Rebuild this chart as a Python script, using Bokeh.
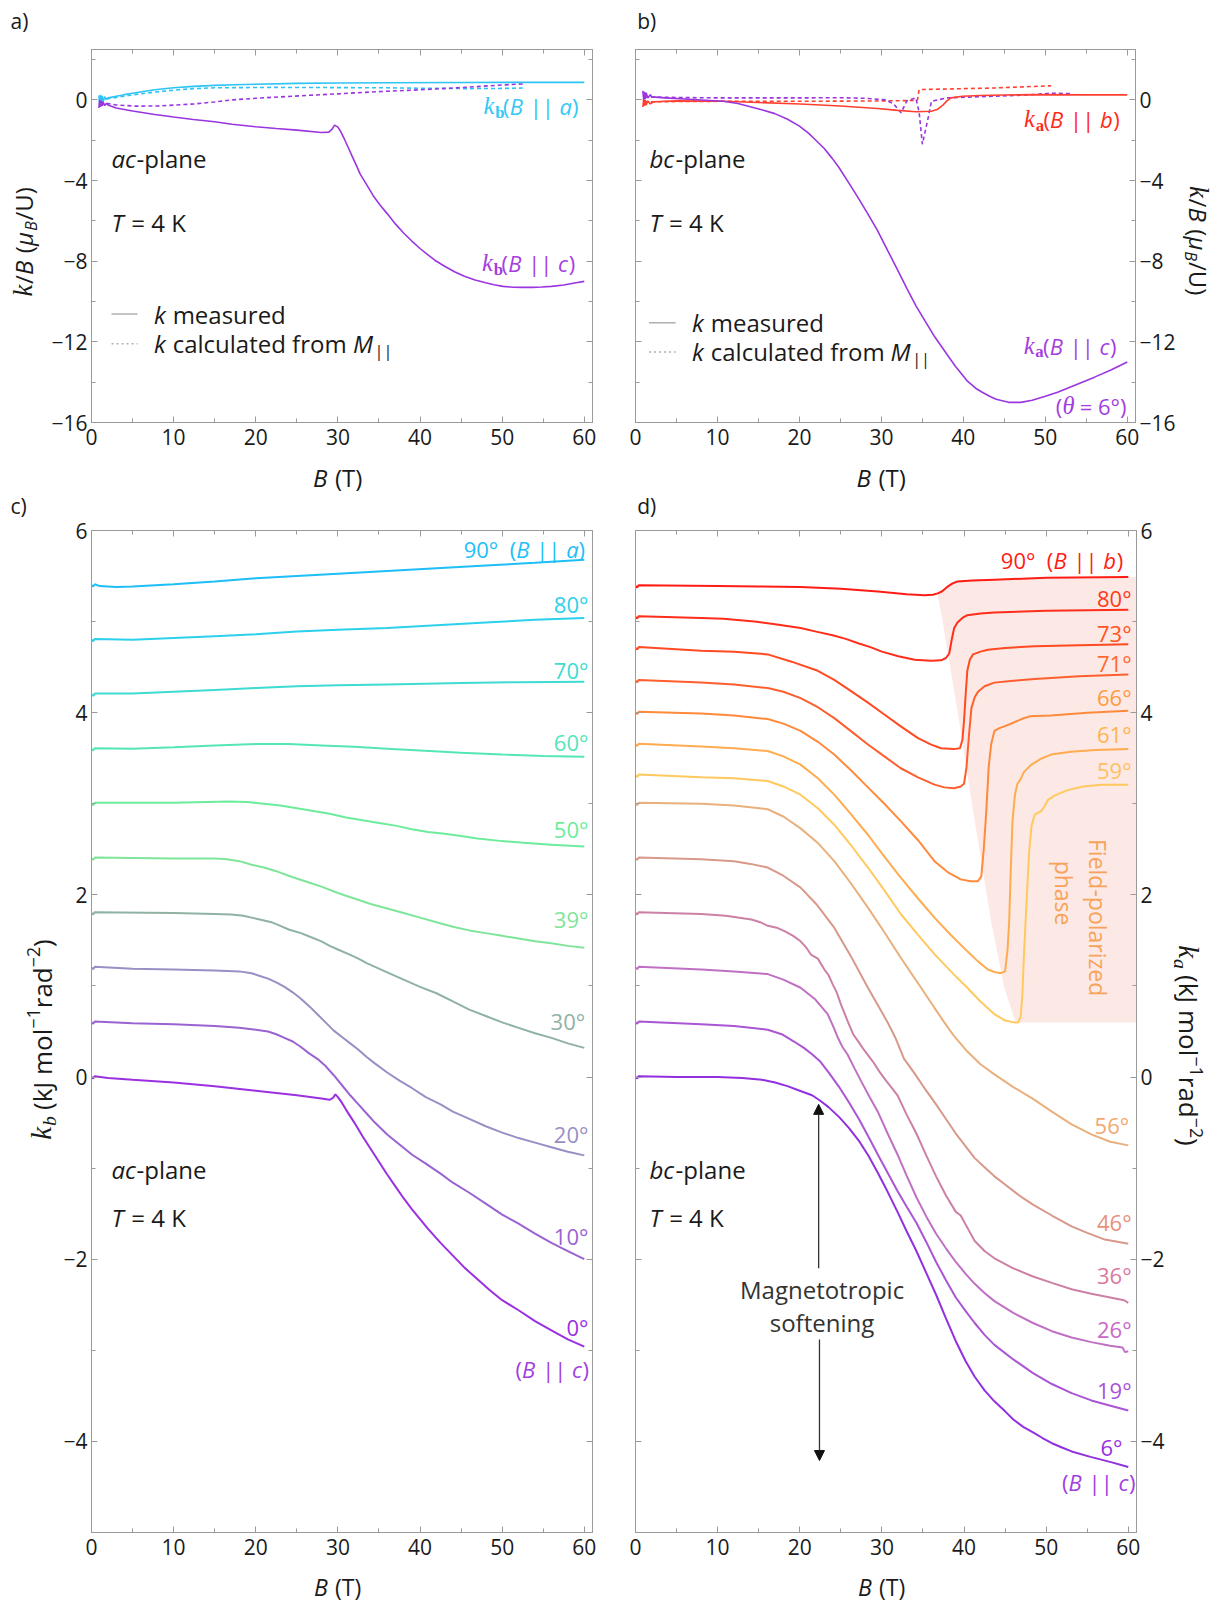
import math
from bokeh.plotting import figure
from bokeh.models import (Label, LinearAxis, SingleIntervalTicker, Range1d, Arrow,
                          NormalHead, CustomJSTickFormatter)
from bokeh.layouts import column, row
from bokeh.embed import file_html
from bokeh.resources import INLINE

FONT = "Open Sans"
MATH = "Liberation Serif"
FRAME = "#9a9a9a"
TXT = "#1a1a1a"

# ------------------------------------------------------------------ data
# panel a : k/B (muB/U), ac-plane
A_C_MEAS_B = [0.9, 1.0, 1.1, 1.2, 1.3, 1.4, 1.6, 1.8, 2.0, 3, 5, 7.7, 10, 12.4, 15, 17.1, 20, 22.5, 25, 28,
              28.9, 29.3, 29.6, 30.0, 30.3, 30.8, 31.3, 31.8, 32.3, 32.7, 33.5, 34.3, 35.1, 36, 37, 38, 39, 40,
              40.7, 41.8, 43, 44.2, 45.4, 46.7, 48, 49, 50.1, 51.3, 52.5, 53.7, 54.8, 56, 57.5, 59, 60]
A_C_MEAS_K = [-0.4, 0.0, -0.35, -0.05, -0.3, -0.1, -0.28, -0.18, -0.25, -0.4, -0.55, -0.72, -0.85, -0.97,
              -1.08, -1.21, -1.33, -1.42, -1.5, -1.62, -1.6, -1.45, -1.25, -1.35, -1.54, -1.95, -2.4, -2.85,
              -3.3, -3.67, -4.2, -4.75, -5.2, -5.64, -6.15, -6.6, -7.0, -7.37, -7.6, -7.95, -8.25, -8.52,
              -8.75, -8.93, -9.07, -9.17, -9.25, -9.29, -9.3, -9.3, -9.28, -9.25, -9.18, -9.07, -9.0]
A_A_MEAS_B = [0.9, 1.0, 1.1, 1.2, 1.3, 1.4, 1.6, 1.8, 2.0, 3, 4, 5, 6.3, 7.7, 10, 12.4, 15, 17.5, 20, 25, 30,
              36, 45, 52, 60]
A_A_MEAS_K = [0.22, -0.25, 0.25, -0.2, 0.2, -0.12, 0.16, 0.02, 0.1, 0.18, 0.26, 0.33, 0.42, 0.5, 0.6, 0.67,
              0.72, 0.75, 0.78, 0.82, 0.84, 0.85, 0.86, 0.87, 0.87]
A_A_CALC_B = [1, 3, 5, 7.7, 10, 12.4, 15, 21.9, 30, 36, 40, 45.4, 50, 52.5]
A_A_CALC_K = [0.0, 0.12, 0.25, 0.39, 0.48, 0.56, 0.6, 0.62, 0.61, 0.6, 0.58, 0.56, 0.57, 0.59]
A_C_CALC_B = [1, 3, 5.4, 8, 10, 12.5, 15, 17.1, 20, 23, 26.6, 30, 33, 36, 40, 45.4, 50, 52.5]
A_C_CALC_K = [-0.1, -0.25, -0.31, -0.3, -0.26, -0.2, -0.1, 0.0, 0.08, 0.15, 0.23, 0.3, 0.37, 0.43, 0.5,
              0.62, 0.74, 0.79]

# panel b : k/B (muB/U), bc-plane
B_B_MEAS_B = [0.9, 1.0, 1.1, 1.2, 1.3, 1.5, 1.8, 2.2, 3, 5, 10.7, 15, 20.1, 25, 29.5, 32, 34.2, 36.1, 36.8,
              37.5, 38.0, 38.5, 39.9, 42, 45, 48.4, 55, 60]
B_B_MEAS_K = [-0.35, 0.05, -0.3, 0.0, -0.25, -0.05, -0.2, -0.1, -0.08, -0.05, -0.07, -0.13, -0.2, -0.3,
              -0.43, -0.52, -0.59, -0.56, -0.48, -0.26, -0.05, 0.1, 0.18, 0.22, 0.24, 0.26, 0.25, 0.25]
B_B_CALC_B = [1, 5, 10, 20.1, 30, 33.8, 34.4, 34.6, 38, 43.7, 50.7]
B_B_CALC_K = [-0.1, -0.08, -0.07, -0.07, -0.05, -0.03, 0.0, 0.51, 0.54, 0.59, 0.7]
B_C_CALC_B = [1, 5, 10, 15, 20, 24.8, 28, 30.5, 31.5, 32.4, 33.1, 34.2, 34.6, 35.0, 35.7, 36.1, 38, 43.7,
              48, 50.7, 53]
B_C_CALC_K = [0.15, 0.12, 0.1, 0.1, 0.1, 0.11, 0.08, 0.0, -0.2, -0.64, -0.05, 0.1, -0.6, -2.2, -0.9,
              -0.07, 0.1, 0.18, 0.25, 0.33, 0.31]
B_C_MEAS_B = [0.9, 1.0, 1.1, 1.2, 1.3, 1.5, 1.8, 2.0, 3.6, 7, 10.7, 12.5, 14, 15.5, 17, 18.5, 20, 21.1, 22,
              23, 24, 24.8, 26, 27, 28.2, 29.5, 30.8, 32, 33.1, 34.2, 35.3, 36.5, 37.8, 39, 40.5, 41.5, 42.3,
              43.2, 44, 45.5, 47, 48.4, 50, 51.5, 53, 54.5, 56, 58, 60]
B_C_MEAS_K = [0.45, 0.0, 0.4, 0.05, 0.35, 0.1, 0.25, 0.15, 0.1, 0.02, -0.07, -0.18, -0.34, -0.5, -0.68,
              -0.95, -1.3, -1.65, -2.0, -2.4, -2.9, -3.34, -4.1, -4.75, -5.55, -6.46, -7.5, -8.45, -9.35,
              -10.2, -10.95, -11.75, -12.5, -13.2, -13.95, -14.3, -14.5, -14.7, -14.85, -15.0, -15.0, -14.9,
              -14.7, -14.5, -14.25, -14.0, -13.75, -13.4, -13.0]

# panel c : k_b (kJ mol^-1 rad^-2), ac-plane
C_ANGLES = ["0°", "10°", "20°", "30°", "39°", "50°", "60°", "70°", "80°", "90°"]
C_B = [
    [0, 0.2, 0.4, 2, 5, 10, 15, 20, 25, 28, 29.0, 29.4, 29.7, 30.0, 30.4, 31, 32, 33, 34, 35, 36, 37, 38, 39,
     40, 41, 42.5, 44, 45.5, 47, 48.5, 50, 52, 54, 56, 58, 60],
    [0, 0.2, 0.4, 5, 10, 15, 18, 20, 21.5, 22.5, 23.5, 24.5, 25.5, 26.5, 27.5, 28.5, 29.5, 30.5, 31.5, 32.5,
     33.5, 34.5, 36, 37.5, 39, 40.7, 42.5, 44, 46, 48, 50, 52, 54, 56, 58, 60],
    [0, 0.2, 0.4, 5, 10, 15, 18, 19.5, 20.5, 21.5, 22.5, 23.5, 24.5, 25.5, 26.6, 27.5, 28.5, 29.5, 30.5, 31.5,
     32.5, 33.5, 34.5, 36, 37.5, 39, 40.7, 42.5, 44, 46, 48, 50, 52, 54, 56, 58, 60],
    [0, 0.2, 0.4, 10, 15, 17, 18.5, 19.5, 20.5, 21.9, 23, 24, 25.5, 26.6, 28, 29, 30, 31.3, 32.5, 33.5, 35,
     36, 38, 40, 42, 44, 46, 48, 50, 52, 54, 56, 58, 60],
    [0, 0.2, 0.4, 10, 15, 16.5, 18, 19.5, 21, 22.5, 24, 26, 28, 30, 32, 34, 36, 38, 40, 42, 44, 46, 48, 50,
     52, 54, 56, 58, 60],
    [0, 0.2, 0.4, 10, 14, 16.7, 19, 21, 23, 25, 27, 29, 31, 33, 35, 37, 39, 41, 43, 45, 47, 50, 53, 56, 60],
    [0, 0.2, 0.4, 5, 10, 15, 20, 24, 28, 32, 36, 40, 45, 50, 55, 60],
    [0, 0.2, 0.4, 5, 10, 15, 20, 25, 30, 36, 45, 52, 60],
    [0, 0.2, 0.4, 5, 10, 15, 20, 25, 30, 36, 42, 48, 54, 60],
    [0, 0.2, 0.4, 1, 3, 5, 10, 15, 20, 25, 30, 36, 42, 48, 54, 60],
]
C_K = [
    [0.0, -0.015, 0.01, -0.01, -0.03, -0.06, -0.1, -0.15, -0.2, -0.235, -0.25, -0.23, -0.19, -0.22, -0.27,
     -0.36, -0.5, -0.65, -0.79, -0.93, -1.07, -1.2, -1.33, -1.45, -1.56, -1.67, -1.82, -1.96, -2.1, -2.22,
     -2.34, -2.45, -2.56, -2.68, -2.78, -2.88, -2.96],
    [0.6, 0.585, 0.61, 0.59, 0.58, 0.56, 0.54, 0.52, 0.5, 0.47, 0.43, 0.39, 0.33, 0.26, 0.2, 0.12, 0.02,
     -0.09, -0.2, -0.3, -0.4, -0.5, -0.63, -0.74, -0.85, -0.95, -1.06, -1.16, -1.27, -1.39, -1.51, -1.61,
     -1.72, -1.82, -1.91, -2.0],
    [1.2, 1.185, 1.21, 1.19, 1.18, 1.17, 1.16, 1.14, 1.11, 1.08, 1.04, 0.99, 0.93, 0.86, 0.77, 0.69, 0.6,
     0.51, 0.44, 0.37, 0.3, 0.22, 0.15, 0.05, -0.04, -0.12, -0.22, -0.3, -0.38, -0.46, -0.54, -0.61, -0.67,
     -0.72, -0.77, -0.82, -0.86],
    [1.8, 1.785, 1.81, 1.8, 1.79, 1.785, 1.77, 1.75, 1.73, 1.7, 1.66, 1.62, 1.58, 1.54, 1.49, 1.44, 1.4,
     1.35, 1.3, 1.25, 1.19, 1.15, 1.07, 0.99, 0.92, 0.83, 0.74, 0.67, 0.6, 0.54, 0.48, 0.43, 0.37, 0.32],
    [2.4, 2.385, 2.41, 2.4, 2.4, 2.39, 2.37, 2.33, 2.3, 2.26, 2.21, 2.15, 2.09, 2.02, 1.96, 1.9, 1.85, 1.8,
     1.75, 1.7, 1.65, 1.61, 1.58, 1.55, 1.52, 1.49, 1.47, 1.44, 1.42],
    [3.0, 2.985, 3.01, 3.01, 3.02, 3.025, 3.02, 3.0, 2.98, 2.95, 2.92, 2.89, 2.85, 2.82, 2.79, 2.76, 2.72,
     2.69, 2.67, 2.645, 2.62, 2.59, 2.57, 2.55, 2.53],
    [3.6, 3.585, 3.61, 3.605, 3.62, 3.64, 3.655, 3.655, 3.64, 3.625, 3.605, 3.585, 3.56, 3.54, 3.525, 3.515],
    [4.2, 4.185, 4.21, 4.21, 4.23, 4.25, 4.27, 4.29, 4.3, 4.31, 4.325, 4.335, 4.34],
    [4.8, 4.785, 4.81, 4.8, 4.82, 4.84, 4.86, 4.89, 4.91, 4.93, 4.96, 4.99, 5.02, 5.04],
    [5.4, 5.385, 5.41, 5.39, 5.38, 5.385, 5.41, 5.44, 5.475, 5.5, 5.525, 5.555, 5.585, 5.615, 5.645, 5.68],
]
C_COLORS = ["#9b30e0", "#9a63d2", "#9a8fc4", "#8fb2a2", "#7fe59a", "#6dec9c", "#55e6b8", "#3edbd0",
            "#2cd0ec", "#1ebff8"]
C_LAB_B = [60.5, 60.5, 60.5, 60.1, 60.5, 60.5, 60.5, 60.5, 60.5, 60.1]
C_LAB_K = [-2.74, -1.74, -0.62, 0.62, 1.73, 2.72, 3.68, 4.47, 5.19, 5.80]

# panel d : k_a (kJ mol^-1 rad^-2), bc-plane
D_ANGLES = ["6°", "19°", "26°", "36°", "46°", "56°", "59°", "61°", "66°", "71°", "73°", "80°", "90°"]
D_B = [
    [0, 0.2, 0.4, 5, 10, 13, 15.4, 17, 18.5, 20, 21.5, 22.5, 23.5, 24.8, 26, 27.2, 28.4, 29.5, 30.7, 31.9, 33,
     34.2, 35.4, 36.6, 37.8, 39, 40.2, 41.3, 42.5, 43.7, 45, 46, 47.2, 48.4, 49.5, 50.7, 52, 53.1, 55.4, 58, 60],
    [0, 0.2, 0.4, 8, 12, 16.1, 17.8, 19.3, 20.5, 21.5, 22.5, 23.6, 24.8, 26, 27.2, 28.4, 29.5, 30.7, 31.9, 33,
     34.2, 35.4, 36.6, 37.8, 39, 40.2, 41.3, 42.5, 43.7, 46, 48.4, 50.7, 53.1, 55.5, 57.5, 60],
    [0, 0.2, 0.4, 8, 12, 16.1, 18, 20.1, 21.8, 23.4, 24.1, 24.6, 25.2, 25.8, 26.7, 27.5, 28.5, 29.5, 30.7,
     31.9, 33, 34.2, 35.4, 36.6, 37.8, 39, 40.2, 41.3, 42.5, 43.7, 46, 48.4, 50.7, 53.1, 55.5, 57.8, 59.3,
     59.6, 60],
    [0, 0.2, 0.4, 8, 11, 14.1, 15.2, 16.1, 17.2, 18.2, 19.2, 20.1, 20.8, 21.4, 22.2, 23.0, 23.5, 24, 24.5,
     25.0, 25.8, 26.5, 27.2, 27.8, 28.9, 29.7, 30.5, 31.2, 31.9, 33, 34.2, 35.4, 36.6, 37.8, 39, 39.6, 40.2,
     41.3, 42.5, 43.7, 46, 48.4, 50.7, 53.1, 55.5, 57.8, 59.5, 60],
    [0, 0.2, 0.4, 8, 12, 14, 16.1, 18, 20.1, 22, 24.2, 26.2, 28.3, 29.5, 30.7, 31.7, 32.7, 33.5, 34.2, 35.4,
     36.6, 37.8, 39, 40.2, 41.3, 42.5, 43.7, 45, 46, 47.2, 48.4, 50.7, 53.1, 55, 57, 60],
    [0, 0.2, 0.4, 8, 12, 16.1, 18, 20.1, 22.2, 24.2, 26.2, 28.3, 30.3, 32.3, 34.4, 36.4, 37.6, 38.7, 40.4,
     42, 43.7, 46, 48.4, 50.7, 53.1, 55.5, 57.8, 60],
    [0, 0.2, 0.4, 8, 12, 16.1, 18, 20.1, 22.2, 24.2, 26.2, 28.3, 30.3, 32.3, 34.4, 36.4, 38.4, 40.4, 42,
     43.7, 45, 46.1, 46.6, 46.9, 47.1, 47.3, 47.6, 47.9, 48.2, 48.6, 49.4, 49.8, 50.2, 51, 52.6, 54.5, 56.7,
     60],
    [0, 0.2, 0.4, 8, 12, 16.1, 18, 20.1, 22.2, 24.2, 26.2, 28.3, 30.3, 32.3, 34.4, 36.4, 38.4, 40.4, 41.7,
     42.9, 43.8, 44.5, 45.0, 45.3, 45.5, 45.7, 45.9, 46.2, 46.5, 46.9, 47.3, 48.2, 49.5, 50.6, 53, 56, 60],
    [0, 0.2, 0.4, 8, 12, 16.1, 18, 20.1, 22.2, 24.2, 26.2, 28.3, 30.3, 32.3, 34.4, 36.4, 38, 39.6, 40.8,
     41.7, 42.1, 42.4, 42.7, 43.0, 43.3, 43.7, 44.3, 44.9, 46, 47.0, 48.0, 50.6, 55, 60],
    [0, 0.2, 0.4, 8, 12, 16.1, 18, 20.1, 22.2, 24.2, 26.2, 28.3, 30.3, 32.3, 34.4, 36.4, 37.6, 38.8, 39.6,
     40.0, 40.3, 40.6, 40.9, 41.3, 41.7, 42.5, 43.7, 46, 48.6, 54, 60],
    [0, 0.2, 0.4, 8, 12, 16.1, 19, 22.2, 24.2, 26.2, 28.3, 30.3, 32.3, 34.4, 36, 37.2, 38.8, 39.5, 39.8,
     40.0, 40.2, 40.4, 40.7, 41.1, 42.0, 42.9, 45, 48.6, 54, 60],
    [0, 0.2, 0.4, 8, 10.7, 14.5, 17, 20.1, 22, 24, 25.6, 27.2, 28.6, 30, 32, 34, 36, 37.2, 37.8, 38.2, 38.5,
     38.8, 39.2, 39.8, 40.4, 42, 43.7, 50, 60],
    [0, 0.2, 0.4, 10, 15, 20.1, 25, 29.5, 33, 35.2, 36.2, 36.8, 37.3, 37.7, 38.1, 38.6, 39.2, 41, 43.7, 50, 60],
]
D_K = [
    [0.0, -0.015, 0.01, 0.0, 0.0, -0.01, -0.03, -0.06, -0.1, -0.15, -0.2, -0.26, -0.33, -0.44, -0.56, -0.7,
     -0.87, -1.05, -1.26, -1.48, -1.69, -1.91, -2.15, -2.39, -2.65, -2.9, -3.12, -3.29, -3.44, -3.56, -3.67,
     -3.76, -3.84, -3.9, -3.96, -4.02, -4.07, -4.11, -4.17, -4.23, -4.28],
    [0.6, 0.585, 0.61, 0.58, 0.56, 0.52, 0.47, 0.39, 0.32, 0.25, 0.17, 0.04, -0.11, -0.28, -0.46, -0.66,
     -0.85, -1.05, -1.25, -1.42, -1.6, -1.81, -2.03, -2.23, -2.42, -2.57, -2.7, -2.83, -2.94, -3.1, -3.25,
     -3.37, -3.47, -3.55, -3.6, -3.66],
    [1.2, 1.185, 1.21, 1.18, 1.16, 1.13, 1.07, 0.98, 0.86, 0.69, 0.55, 0.44, 0.33, 0.25, 0.09, -0.05, -0.22,
     -0.38, -0.62, -0.85, -1.08, -1.32, -1.53, -1.72, -1.88, -2.03, -2.16, -2.27, -2.37, -2.46, -2.59, -2.7,
     -2.79, -2.86, -2.91, -2.95, -2.97, -3.02, -3.01],
    [1.8, 1.785, 1.81, 1.79, 1.77, 1.73, 1.7, 1.66, 1.64, 1.6, 1.55, 1.49, 1.42, 1.34, 1.3, 1.18, 1.12, 1.02,
     0.93, 0.8, 0.62, 0.47, 0.38, 0.3, 0.17, 0.06, -0.04, -0.12, -0.2, -0.41, -0.62, -0.86, -1.09, -1.3,
     -1.48, -1.52, -1.62, -1.8, -1.91, -1.99, -2.1, -2.19, -2.26, -2.33, -2.38, -2.42, -2.45, -2.48],
    [2.4, 2.385, 2.41, 2.39, 2.37, 2.34, 2.3, 2.21, 2.08, 1.9, 1.64, 1.33, 0.98, 0.79, 0.6, 0.42, 0.2, 0.1,
     0.01, -0.15, -0.3, -0.46, -0.62, -0.76, -0.89, -0.99, -1.09, -1.18, -1.25, -1.33, -1.4, -1.52, -1.64,
     -1.71, -1.78, -1.83],
    [3.0, 2.985, 3.01, 3.0, 2.98, 2.94, 2.86, 2.73, 2.57, 2.37, 2.13, 1.86, 1.59, 1.31, 1.03, 0.76, 0.6,
     0.46, 0.28, 0.14, 0.03, -0.11, -0.24, -0.38, -0.52, -0.63, -0.71, -0.75],
    [3.31, 3.295, 3.32, 3.29, 3.28, 3.25, 3.19, 3.1, 2.95, 2.77, 2.55, 2.3, 2.05, 1.79, 1.56, 1.35, 1.16,
     0.98, 0.83, 0.69, 0.62, 0.6, 0.6, 0.66, 0.9, 1.35, 1.9, 2.44, 2.75, 2.88, 2.92, 2.97, 3.04, 3.09, 3.15,
     3.19, 3.21, 3.21],
    [3.65, 3.635, 3.66, 3.63, 3.61, 3.58, 3.52, 3.43, 3.28, 3.1, 2.89, 2.66, 2.42, 2.19, 1.96, 1.75, 1.56,
     1.38, 1.27, 1.18, 1.15, 1.14, 1.16, 1.4, 1.71, 2.3, 2.81, 3.1, 3.22, 3.27, 3.35, 3.43, 3.5, 3.54, 3.57,
     3.59, 3.6],
    [4.0, 3.985, 4.01, 3.99, 3.97, 3.93, 3.88, 3.8, 3.68, 3.54, 3.37, 3.18, 3.0, 2.81, 2.6, 2.37, 2.25, 2.17,
     2.15, 2.15, 2.2, 2.5, 2.9, 3.4, 3.65, 3.8, 3.83, 3.85, 3.89, 3.93, 3.96, 3.97, 4.0, 4.02],
    [4.35, 4.335, 4.36, 4.33, 4.31, 4.27, 4.23, 4.16, 4.06, 3.94, 3.8, 3.65, 3.52, 3.39, 3.29, 3.21, 3.18,
     3.17, 3.19, 3.22, 3.4, 3.75, 4.05, 4.17, 4.23, 4.29, 4.33, 4.35, 4.37, 4.4, 4.42],
    [4.71, 4.695, 4.72, 4.68, 4.67, 4.64, 4.56, 4.46, 4.36, 4.24, 4.11, 3.98, 3.85, 3.72, 3.65, 3.61, 3.6,
     3.61, 3.7, 3.91, 4.2, 4.46, 4.58, 4.64, 4.67, 4.69, 4.71, 4.73, 4.74, 4.75],
    [5.05, 5.035, 5.06, 5.04, 5.03, 5.0, 4.97, 4.93, 4.89, 4.85, 4.81, 4.76, 4.72, 4.67, 4.62, 4.58, 4.57,
     4.575, 4.6, 4.65, 4.8, 4.93, 4.99, 5.04, 5.07, 5.09, 5.1, 5.12, 5.13],
    [5.39, 5.375, 5.4, 5.39, 5.385, 5.38, 5.36, 5.33, 5.3, 5.29, 5.295, 5.31, 5.33, 5.36, 5.39, 5.42, 5.44,
     5.45, 5.46, 5.48, 5.49],
]
D_COLORS = ["#9230e0", "#aa55d4", "#c070c4", "#cd80a6", "#d8988a", "#e9b07e", "#ffc95e", "#ffab50",
            "#ff8a3c", "#ff5f2e", "#ff4a22", "#ff2e1a", "#ff1c14"]
D_LAB_COLORS = ["#9a30e0", "#aa50d8", "#c868c8", "#dc78a0", "#e8907c", "#f2a870", "#ffc060", "#ffb450",
                "#ff9a40", "#ff6a30", "#ff5522", "#ff3a1a", "#ff1c14"]
D_LAB_B = [59.3, 60.4, 60.4, 60.4, 60.4, 60.1, 60.4, 60.4, 60.4, 60.4, 60.4, 60.4, 59.4]
D_LAB_K = [-4.06, -3.44, -2.77, -2.17, -1.59, -0.53, 3.37, 3.77, 4.17, 4.55, 4.87, 5.26, 5.68]

# field-polarized region boundary (B, k)
FP_B = [36.8, 37.4, 39.4, 41.3, 43.3, 44.9, 46.3, 61.0, 61.0, 50.0, 43.7, 41.0, 39.2, 38.6, 38.1, 37.7, 37.3]
FP_K = [5.29, 5.0, 3.91, 2.81, 1.71, 0.98, 0.6, 0.6, 5.49, 5.48, 5.46, 5.45, 5.44, 5.42, 5.39, 5.36, 5.33]

# ------------------------------------------------------------------ helpers
CW = {' ': .26, '(': .30, ')': .30, '/': .37, '=': .57, '|': .55, '°': .43, '−': .57, '-': .32,
      '0': .57, '1': .57, '2': .57, '3': .57, '4': .57, '5': .57, '6': .57, '7': .57, '8': .57, '9': .57,
      'A': .63, 'B': .65, 'C': .63, 'D': .73, 'F': .55, 'K': .62, 'M': .9, 'T': .56, 'U': .73, 'J': .28,
      'a': .56, 'b': .61, 'c': .48, 'd': .61, 'e': .56, 'f': .34, 'g': .55, 'h': .61, 'i': .25, 'k': .52,
      'l': .25, 'm': .93, 'n': .61, 'o': .6, 'p': .61, 'r': .41, 's': .48, 't': .35, 'u': .61, 'z': .47,
      'μ': .62, 'θ': .5}


def tw(s, size, kind):
    if kind in ("mi", "mb"):
        return sum(0.47 if ch.isalpha() else 0.3 for ch in s) * size
    return sum(CW.get(ch, 0.56) for ch in s) * size


def rich(p, sc, x, y, pieces, size=24, color=TXT, align="left", angle=0.0):
    """Mixed-style text; (x, y) is the visual centre-line start/centre/end point."""
    ppx, ppy = sc
    items = []
    for text, kind in pieces:
        sub = kind.startswith("sub_")
        sup = kind.startswith("sup_")
        base = kind[4:] if (sub or sup) else kind
        fs = size * 0.68 if (sub or sup) else size
        if base in ("mi", "mb"):
            fs *= 1.12
        bl = -0.2 * size if sub else (0.4 * size if sup else 0.0)
        shift = -0.32 * size + bl + 0.32 * fs
        items.append((text, base, fs, shift, tw(text, fs, base)))
    total = sum(it[4] for it in items)
    pos = {"left": 0.0, "center": -total / 2, "right": -total}[align]
    if angle == 0:
        adv, up = (1, 0), (0, 1)
    elif angle > 0:
        adv, up = (0, 1), (-1, 0)
    else:
        adv, up = (0, -1), (1, 0)
    for text, base, fs, shift, w in items:
        lead = (len(text) - len(text.lstrip(" "))) * CW[' '] * fs
        t = text.strip(" ")
        if t:
            q = pos + lead
            dx = adv[0] * q + up[0] * shift
            dy = adv[1] * q + up[1] * shift
            p.add_layout(Label(
                x=x + dx / ppx, y=y + dy / ppy, text=t,
                text_font=MATH if base in ("mi", "mb") else FONT,
                text_font_style={"n": "normal", "i": "italic", "mi": "italic", "mb": "bold"}[base],
                text_font_size=f"{fs:.1f}px", text_color=color, text_align="left",
                text_baseline="middle", angle=angle))
        pos += w


MINUS = CustomJSTickFormatter(code="return tick < 0 ? '\\u2212' + Math.abs(tick) : String(tick);")


def make_fig(w, h, left, right, top, bottom, yr, yint, ylab_side):
    p = figure(width=w, height=h, x_range=Range1d(0, 61), y_range=Range1d(*yr), output_backend="svg",
               toolbar_location=None, min_border_left=left, min_border_right=right, min_border_top=top,
               min_border_bottom=bottom, x_axis_location=None, y_axis_location=None)
    p.grid.visible = False
    p.outline_line_color = FRAME
    p.background_fill_color = "white"
    p.border_fill_color = "white"
    for side in ("below", "above", "left", "right"):
        if side in ("below", "above"):
            ax = LinearAxis(ticker=SingleIntervalTicker(interval=10, num_minor_ticks=2))
        else:
            ax = LinearAxis(ticker=SingleIntervalTicker(interval=yint, num_minor_ticks=2))
        ax.formatter = MINUS
        ax.axis_line_color = FRAME
        ax.major_tick_line_color = FRAME
        ax.minor_tick_line_color = FRAME
        ax.major_tick_in = 6
        ax.major_tick_out = 0
        ax.minor_tick_in = 4
        ax.minor_tick_out = 0
        if side == "below" or side == ylab_side:
            ax.major_label_text_font = FONT
            ax.major_label_text_font_size = "21px"
            ax.major_label_text_color = TXT
            ax.major_label_standoff = 6 if side == "below" else 4
        else:
            ax.major_label_text_font_size = "0px"
            ax.major_label_text_color = None
            ax.major_label_standoff = 0
        p.add_layout(ax, side)
    return p


def strip(w, h, left=0, right=0, xr=None):
    """Text-only figure; x in field units when xr is given (frame aligned with the panel), else px."""
    s = figure(width=w, height=h, x_range=Range1d(*(xr if xr else (0, w))), y_range=Range1d(h, 0),
               output_backend="svg", toolbar_location=None, min_border_left=left, min_border_right=right,
               min_border_top=0, min_border_bottom=0, x_axis_location=None, y_axis_location=None)
    s.grid.visible = False
    s.outline_line_color = None
    s.background_fill_color = "white"
    s.border_fill_color = "white"
    return s


PPX = 501 / 61
SC_AB = (PPX, 373 / 18.5)
SC_CD = (PPX, 1002 / 11)
SC_S = (1.0, -1.0)
SC_X = (PPX, -1.0)

# top row (height 520) and bottom row (height 1082)
pa = make_fig(560, 460, 45, 14, 49, 38, (-16, 2.5), 4, "left")
pb = make_fig(572, 413, 29, 42, 2, 38, (-16, 2.5), 4, "right")
pc = make_fig(548, 1045, 33, 14, 10, 33, (-5, 6), 2, "left")
pd = make_fig(567, 1045, 29, 37, 10, 33, (-5, 6), 2, "right")

s_tl, s_tr = strip(46, 520), strip(35, 520)
s_tb = strip(572, 47, 29, 42, (0, 61))
s_xa, s_xb = strip(560, 60, 45, 14, (0, 61)), strip(572, 60, 29, 42, (0, 61))
s_bl, s_br = strip(58, 1082), strip(40, 1082)
s_xc, s_xd = strip(548, 37, 33, 14, (0, 61)), strip(567, 37, 29, 37, (0, 61))

CYAN = "#2ec4f5"
PURP = "#9b35e0"
RED = "#ff4030"

# ---- panel a
pa.line(A_A_CALC_B, A_A_CALC_K, line_color=CYAN, line_width=1.6, line_dash="4 3")
pa.line(A_C_CALC_B, A_C_CALC_K, line_color=PURP, line_width=1.6, line_dash="4 3")
pa.line(A_A_MEAS_B, A_A_MEAS_K, line_color=CYAN, line_width=1.6)
pa.line(A_C_MEAS_B, A_C_MEAS_K, line_color=PURP, line_width=1.6)

# ---- panel b
pb.line(B_B_CALC_B, B_B_CALC_K, line_color=RED, line_width=1.6, line_dash="4 3")
pb.line(B_C_CALC_B, B_C_CALC_K, line_color=PURP, line_width=1.6, line_dash="4 3")
pb.line(B_B_MEAS_B, B_B_MEAS_K, line_color=RED, line_width=1.6)
pb.line(B_C_MEAS_B, B_C_MEAS_K, line_color=PURP, line_width=1.6)

# ---- panel c
for xs, ys, col in zip(C_B, C_K, C_COLORS):
    pc.line(xs, ys, line_color=col, line_width=2)

# ---- panel d
pd.patch(FP_B, FP_K, fill_color="#fce9e5", line_color=None)
for xs, ys, col in zip(D_B, D_K, D_COLORS):
    pd.line(xs, ys, line_color=col, line_width=2)

# ------------------------------------------------------------------ texts in frames
LEG = "#b0b0b0"
for p, sc, plane, tx0, leg_x0, leg_x1, leg_tx, ly1, ly2, ty1, ty2 in (
        (pa, SC_AB, "ac", 2.44, 2.44, 5.6, 7.6, -10.62, -12.1, -2.92, -6.1),
        (pb, SC_AB, "bc", 1.7, 1.65, 4.9, 6.9, -11.05, -12.5, -2.92, -6.1)):
    rich(p, sc, tx0, ty1, [(plane, "i"), ("-plane", "n")])
    rich(p, sc, tx0, ty2, [("T", "i"), (" = 4 K", "n")])
    p.line([leg_x0, leg_x1], [ly1, ly1], line_color=LEG, line_width=1.5)
    p.line([leg_x0, leg_x1], [ly2, ly2], line_color=LEG, line_width=1.5, line_dash="2 3")
    rich(p, sc, leg_tx, ly1, [("k", "i"), (" measured", "n")])
    rich(p, sc, leg_tx, ly2, [("k", "i"), (" calculated from ", "n"), ("M", "i"), ("||", "sub_n")])

PAR = " || "
rich(pa, SC_AB, 59.3, -0.3, [("k", "mi"), ("b", "sub_mb"), ("(", "n"), ("B", "i"), (PAR, "n"),
                              ("a", "i"), (")", "n")], size=22, color="#35c8f5", align="right")
rich(pa, SC_AB, 58.9, -8.1, [("k", "mi"), ("b", "sub_mb"), ("(", "n"), ("B", "i"), (PAR, "n"),
                              ("c", "i"), (")", "n")], size=22, color="#a43ee0", align="right")
rich(pb, SC_AB, 59.1, -0.97, [("k", "mi"), ("a", "sub_mb"), ("(", "n"), ("B", "i"), (PAR, "n"),
                               ("b", "i"), (")", "n")], size=22, color="#ff2a1a", align="right")
rich(pb, SC_AB, 58.7, -12.2, [("k", "mi"), ("a", "sub_mb"), ("(", "n"), ("B", "i"), (PAR, "n"),
                               ("c", "i"), (")", "n")], size=22, color="#a43ee0", align="right")
rich(pb, SC_AB, 59.9, -15.2, [("(", "n"), ("θ", "mi"), (" = 6°)", "n")], size=22, color="#a43ee0",
     align="right")

rich(pc, SC_CD, 2.44, -1.01, [("ac", "i"), ("-plane", "n")])
rich(pc, SC_CD, 2.44, -1.54, [("T", "i"), (" = 4 K", "n")])
for i, (ang, col) in enumerate(zip(C_ANGLES, C_COLORS)):
    if ang == "90°":
        pieces = [("90°", "n"), ("  (", "n"), ("B", "i"), (PAR, "n"), ("a", "i"), (")", "n")]
    else:
        pieces = [(ang, "n")]
    rich(pc, SC_CD, C_LAB_B[i], C_LAB_K[i], pieces, size=22, color=col, align="right")
rich(pc, SC_CD, 60.6, -3.2, [("(", "n"), ("B", "i"), (PAR, "n"), ("c", "i"), (")", "n")],
     size=22, color="#a040e0", align="right")

rich(pd, SC_CD, 1.7, -1.01, [("bc", "i"), ("-plane", "n")])
rich(pd, SC_CD, 1.7, -1.54, [("T", "i"), (" = 4 K", "n")])
for i, (ang, col) in enumerate(zip(D_ANGLES, D_LAB_COLORS)):
    if ang == "90°":
        pieces = [("90°", "n"), ("  (", "n"), ("B", "i"), (PAR, "n"), ("b", "i"), (")", "n")]
    else:
        pieces = [(ang, "n")]
    rich(pd, SC_CD, D_LAB_B[i], D_LAB_K[i], pieces, size=22, color=col, align="right")
rich(pd, SC_CD, 60.9, -4.45, [("(", "n"), ("B", "i"), (PAR, "n"), ("c", "i"), (")", "n")],
     size=22, color="#a040e0", align="right")

rich(pd, SC_CD, 22.7, -2.33, [("Magnetotropic", "n")], size=24, color="#333333", align="center")
rich(pd, SC_CD, 22.7, -2.70, [("softening", "n")], size=24, color="#333333", align="center")
pd.add_layout(Arrow(x_start=22.3, y_start=-2.1, x_end=22.3, y_end=-0.3, line_color="#333333",
                    line_width=1.3, end=NormalHead(size=10, fill_color="#111111", line_color="#111111")))
pd.add_layout(Arrow(x_start=22.4, y_start=-2.88, x_end=22.4, y_end=-4.21, line_color="#333333",
                    line_width=1.3, end=NormalHead(size=10, fill_color="#111111", line_color="#111111")))
pd.add_layout(Label(x=56.3, y=1.75, text="Field-polarized", text_font=FONT, text_font_size="23px",
                    text_color="#f7a35a", text_align="center", text_baseline="middle", angle=-math.pi / 2))
pd.add_layout(Label(x=52.2, y=2.02, text="phase", text_font=FONT, text_font_size="23px",
                    text_color="#f7a35a", text_align="center", text_baseline="middle", angle=-math.pi / 2))

# ------------------------------------------------------------------ texts outside the frames (strips)
rich(s_tl, SC_S, 10, 20.4, [("a)", "n")], size=21)
rich(s_tl, SC_S, 10, 505.8, [("c)", "n")], size=21)
rich(s_tb, SC_X, 0.2, 20.4, [("b)", "n")], size=21)
rich(s_xb, SC_X, 0.2, 45.8, [("d)", "n")], size=21)

for s, yc, fsz in ((s_xa, 17, 24), (s_xb, 17, 24), (s_xc, 21, 23), (s_xd, 21, 23)):
    rich(s, SC_X, 30.0, yc, [("B", "i"), (" (T)", "n")], size=fsz, align="center")

KB_LAB = [("k", "mi"), ("/", "n"), ("B", "i"), (" (", "n"), ("μ", "i"), ("B", "sub_i"), ("/U)", "n")]
rich(s_tl, SC_S, 23.0, 241.2, KB_LAB, size=24, align="center", angle=math.pi / 2)
rich(s_tr, SC_S, 20.0, 240.2, KB_LAB, size=24, align="center", angle=-math.pi / 2)
rich(s_bl, SC_S, 41.0, 519.0, [("k", "mi"), ("b", "sub_mi"), (" (kJ mol", "n"), ("−1", "sup_n"),
                               ("rad", "n"), ("−2", "sup_n"), (")", "n")],
     size=26, align="center", angle=math.pi / 2)
rich(s_br, SC_S, 15.0, 525.0, [("k", "mi"), ("a", "sub_mi"), (" (kJ mol", "n"), ("−1", "sup_n"),
                               ("rad", "n"), ("−2", "sup_n"), (")", "n")],
     size=26, align="center", angle=-math.pi / 2)

layout = column(
    row(s_tl, column(pa, s_xa), column(s_tb, pb, s_xb), s_tr),
    row(s_bl, column(pc, s_xc), column(pd, s_xd), s_br),
)
open("out.html", "w").write(file_html(layout, INLINE))
